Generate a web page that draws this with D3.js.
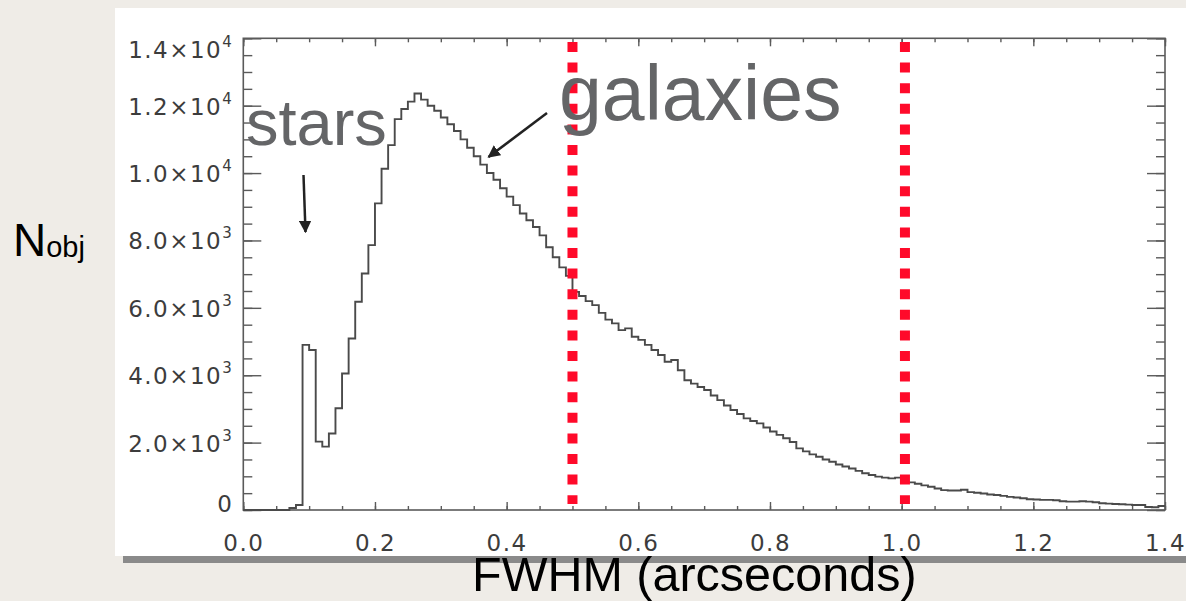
<!DOCTYPE html>
<html>
<head>
<meta charset="utf-8">
<script src="https://cdn.jsdelivr.net/npm/d3@7"></script>
<style>
  html, body { margin: 0; padding: 0; background: #efece7; }
  svg { display: block; }
</style>
</head>
<body>
<svg id="chart" width="1186" height="601"></svg>
<script>
// ---------- data ----------
const binWidth = 0.01;
// counts per 0.01-arcsec FWHM bin, starting at 0.00
const counts = [
  0, 0, 0, 0, 0, 0, 0, 60, 150, 4900,
  4750, 2030, 1880, 2270, 3020, 4050, 5090, 6180, 7020, 7860,
  9100, 10130, 10830, 11600, 11900, 12120, 12360, 12180, 12000, 11850,
  11650, 11450, 11250, 11000, 10750, 10500, 10250, 10000, 9800, 9550,
  9300, 9050, 8800, 8600, 8400, 8150, 7800, 7500, 7200, 6950,
  6475, 6350, 6200, 6080, 5850, 5650, 5540, 5340, 5390, 5140,
  5050, 4900, 4750, 4600, 4400, 4450, 4150, 3850, 3750, 3650,
  3560, 3400, 3260, 3100, 2970, 2850, 2720, 2640, 2570, 2450,
  2330, 2230, 2130, 2020, 1830, 1740, 1650, 1580, 1500, 1430,
  1350, 1290, 1230, 1160, 1090, 1040, 990, 960, 940, 960,
  880, 820, 780, 730, 690, 640, 590, 580, 580, 600,
  530, 510, 490, 460, 445, 420, 390, 370, 350, 320,
  310, 300, 300, 290, 260, 250, 250, 260, 250, 230,
  200, 190, 180, 170, 160, 150, 150, 90, 80, 120
];
const cutLines = [0.5, 1.005];
const xTickValues = [0, 0.2, 0.4, 0.6, 0.8, 1.0, 1.2, 1.4];
const xTickLabels = ["0.0", "0.2", "0.4", "0.6", "0.8", "1.0", "1.2", "1.4"];
const yTickValues = [0, 2000, 4000, 6000, 8000, 10000, 12000, 14000];
const yTickMantissa = ["0", "2.0", "4.0", "6.0", "8.0", "1.0", "1.2", "1.4"];
const yTickExponent = ["", "3", "3", "3", "3", "4", "4", "4"];
const xLabel = "FWHM (arcseconds)";
const yLabelMain = "N";
const yLabelSub = "obj";
const annotStars = "stars";
const annotGalaxies = "galaxies";

// ---------- layout ----------
const svg = d3.select("#chart");
const x = d3.scaleLinear().domain([0, 1.4]).range([243.3, 1165]);
const y = d3.scaleLinear().domain([0, 14000]).range([510, 38.3]);

// panel
svg.append("rect").attr("x", 123).attr("y", 555).attr("width", 1100).attr("height", 8).attr("fill", "#8a8a8a");
svg.append("rect").attr("x", 115).attr("y", 8).attr("width", 1100).attr("height", 548).attr("fill", "#ffffff");

const axisColor = "#5a5a5a";
const tickFont = "'DejaVu Sans', sans-serif";
const tickFill = "#3c3c3c";
const tickWeight = 400;

// minor ticks
const xMinor = d3.range(0, 1.4001, 0.05).map(d => +d.toFixed(2));
const yMinor = d3.range(0, 14001, 500);

function styleAxis(g) {
  g.select(".domain").remove();
  g.selectAll("line").attr("stroke", axisColor).attr("stroke-width", 1.4);
}

// bottom
svg.append("g").attr("transform", `translate(0,${y(0)})`)
  .call(d3.axisBottom(x).tickValues(xMinor).tickSize(-4).tickFormat("")).call(styleAxis);
const xAx = svg.append("g").attr("transform", `translate(0,${y(0)})`)
  .call(d3.axisBottom(x).tickValues(xTickValues).tickSize(-8).tickPadding(32)
        .tickFormat((d, i) => xTickLabels[i])).call(styleAxis);
xAx.selectAll("text").attr("font-family", tickFont).attr("font-size", 23).attr("font-weight", tickWeight)
  .attr("fill", tickFill).attr("letter-spacing", 1.5).attr("dy", 0).attr("y", 41);
// top
svg.append("g").attr("transform", `translate(0,${y(14000)})`)
  .call(d3.axisTop(x).tickValues(xMinor).tickSize(-4).tickFormat("")).call(styleAxis);
svg.append("g").attr("transform", `translate(0,${y(14000)})`)
  .call(d3.axisTop(x).tickValues(xTickValues).tickSize(-8).tickFormat("")).call(styleAxis);
// left
svg.append("g").attr("transform", `translate(${x(0)},0)`)
  .call(d3.axisLeft(y).tickValues(yMinor).tickSize(-9).tickFormat("")).call(styleAxis);
svg.append("g").attr("transform", `translate(${x(0)},0)`)
  .call(d3.axisLeft(y).tickValues(yTickValues).tickSize(-18).tickPadding(10).tickFormat("")).call(styleAxis);
// right
svg.append("g").attr("transform", `translate(${x(1.4)},0)`)
  .call(d3.axisRight(y).tickValues(yMinor).tickSize(-9).tickFormat("")).call(styleAxis);
svg.append("g").attr("transform", `translate(${x(1.4)},0)`)
  .call(d3.axisRight(y).tickValues(yTickValues).tickSize(-18).tickFormat("")).call(styleAxis);

// frame
svg.append("rect").attr("x", x(0)).attr("y", y(14000)).attr("width", x(1.4) - x(0)).attr("height", y(0) - y(14000))
  .attr("fill", "none").attr("stroke", axisColor).attr("stroke-width", 1.6);

// y tick labels with superscripts
const yLab = svg.append("g");
yTickValues.forEach((v, i) => {
  let shift = 9;
  if (i === 0) shift = 2;
  if (i === yTickValues.length - 1) shift = 20;
  const t = yLab.append("text").attr("x", x(0) - 10).attr("y", y(v) + shift)
    .attr("text-anchor", "end").attr("font-family", tickFont).attr("font-size", 23)
    .attr("font-weight", tickWeight).attr("fill", tickFill).attr("letter-spacing", 1.5);
  if (yTickExponent[i]) {
    t.append("tspan").text(yTickMantissa[i] + "×10");
    t.append("tspan").attr("dy", -11).attr("font-size", 15).text(yTickExponent[i]);
  } else {
    t.text(yTickMantissa[i]);
  }
});

// histogram (step outline)
const pts = counts.map((c, i) => ({ x: i * binWidth, v: c }));
pts.push({ x: counts.length * binWidth, v: counts[counts.length - 1] });
const line = d3.line().x(d => x(d.x)).y(d => y(d.v)).curve(d3.curveStepAfter);
svg.append("path").datum(pts).attr("d", line).attr("fill", "none")
  .attr("stroke", "#4a4a4a").attr("stroke-width", 1.9);

// red dotted cut lines
svg.selectAll(".cut").data(cutLines).enter().append("line")
  .attr("x1", d => x(d)).attr("x2", d => x(d))
  .attr("y1", y(13890)).attr("y2", y(180))
  .attr("stroke", "#ff0a2a").attr("stroke-width", 10).attr("stroke-dasharray", "10,10.6");

// annotations
svg.append("defs").append("marker").attr("id", "ah").attr("viewBox", "0 0 10 10")
  .attr("refX", 9).attr("refY", 5).attr("markerWidth", 5).attr("markerHeight", 5)
  .attr("markerUnits", "strokeWidth").attr("orient", "auto")
  .append("path").attr("d", "M0,0 L10,5 L0,10 z").attr("fill", "#222");

svg.append("line").attr("x1", 303.5).attr("y1", 175).attr("x2", 305.5).attr("y2", 232)
  .attr("stroke", "#222").attr("stroke-width", 2.5).attr("marker-end", "url(#ah)");
svg.append("line").attr("x1", 547).attr("y1", 113).attr("x2", 488.5).attr("y2", 157)
  .attr("stroke", "#222").attr("stroke-width", 2.5).attr("marker-end", "url(#ah)");

svg.append("text").attr("x", 246).attr("y", 145).text(annotStars)
  .attr("font-family", "'Liberation Sans', Arial, sans-serif").attr("font-size", 65).attr("fill", "#646567");
svg.append("text").attr("x", 559).attr("y", 120).text(annotGalaxies)
  .attr("font-family", "'Liberation Sans', Arial, sans-serif").attr("font-size", 77).attr("fill", "#646567");

// axis titles
svg.append("text").attr("x", 472).attr("y", 591).text(xLabel)
  .attr("font-family", "'Liberation Sans', Arial, sans-serif").attr("font-size", 48.5).attr("fill", "#000");
const yt = svg.append("text").attr("x", 13).attr("y", 256)
  .attr("font-family", "'Liberation Sans', Arial, sans-serif").attr("fill", "#000");
yt.append("tspan").attr("font-size", 46).text(yLabelMain);
yt.append("tspan").attr("font-size", 29).attr("dy", 1).text(yLabelSub);
</script>
</body>
</html>
